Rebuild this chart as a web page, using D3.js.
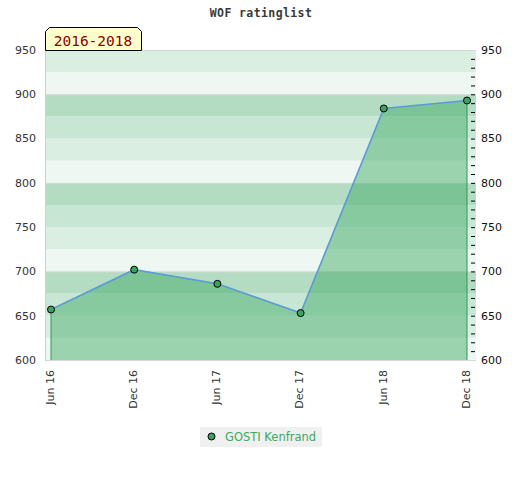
<!DOCTYPE html>
<html>
<head>
<meta charset="utf-8">
<script src="https://cdn.jsdelivr.net/npm/d3@7"></script>
<style>
  body { margin: 0; background: #fff; }
</style>
</head>
<body>
<div id="chart"></div>
<script>
// data
var periods = ["Jun 16", "Dec 16", "Jun 17", "Dec 17", "Jun 18", "Dec 18"];
var ratings = [657, 702, 686, 653, 884, 893];
var yTicks = [600, 650, 700, 750, 800, 850, 900, 950];
var seriesName = "GOSTI Kenfrand";
var periodLabel = "2016-2018";
var chartTitle = "WOF ratinglist";

var drawChart = function(){

    // sizes
    const width = 520, height = 480;
    const plotL = 45, plotR = 476, plotT = 50, plotB = 360;

    // colours
    var bandColors = ["#b3dcc3", "#c8e6d4", "#dbeee2", "#eef7f1"];
    var areaColor = "rgb(61,169,100)";
    var lineColor = "#5b9bd5";
    var dotColor = "#3aa35f";
    var textColor = "#333";
    var fontSans = "'DejaVu Sans', Verdana, sans-serif";
    var fontMono = "'DejaVu Sans Mono', monospace";

    var data = periods.map(function(p, i){ return {key: p, val: ratings[i]}; });

    var svg = d3.select("#chart")
        .append("svg")
        .attr("width", width)
        .attr("height", height)
        .style("background", "#fff");

    var x = d3.scalePoint()
        .domain(periods)
        .range([plotL + 6, plotR - 9]);
    var y = d3.scaleLinear()
        .domain([600, 950])
        .range([plotB, plotT]);

    // striped background, 25 points per band, 4-band cycle per 100
    var bands = d3.range(600, 950, 25);
    svg.append("g").selectAll("rect")
        .data(bands)
        .join("rect")
        .attr("x", plotL)
        .attr("width", plotR - plotL)
        .attr("y", d => y(d + 25))
        .attr("height", d => y(d) - y(d + 25))
        .attr("fill", d => bandColors[((100 - (d + 25) % 100) % 100) / 25]);

    // gridlines every 100 + frame
    svg.append("g").selectAll("line")
        .data(yTicks.filter(d => d % 100 === 0).concat([950]))
        .join("line")
        .attr("x1", plotL).attr("x2", plotR)
        .attr("y1", d => y(d) + 0.5).attr("y2", d => y(d) + 0.5)
        .attr("stroke", "#d8d8d8");
    svg.append("line")
        .attr("x1", plotL + 0.5).attr("x2", plotL + 0.5)
        .attr("y1", plotT).attr("y2", plotB + 1)
        .attr("stroke", "#cfcfcf");

    // area under the line
    var area = d3.area()
        .x(d => x(d.key))
        .y0(y(600))
        .y1(d => y(d.val));
    svg.append("path")
        .datum(data)
        .attr("d", area)
        .attr("fill", areaColor)
        .attr("fill-opacity", 0.47);

    // vertical edges of the area
    svg.append("g").selectAll("line")
        .data([data[0], data[data.length - 1]])
        .join("line")
        .attr("x1", d => x(d.key)).attr("x2", d => x(d.key))
        .attr("y1", d => y(d.val)).attr("y2", y(600))
        .attr("stroke", "#2f9a55")
        .attr("stroke-width", 1);

    var line = d3.line()
        .x(d => x(d.key))
        .y(d => y(d.val));
    svg.append("path")
        .datum(data)
        .attr("d", line)
        .attr("fill", "none")
        .attr("stroke", lineColor)
        .attr("stroke-width", 1.6);

    svg.append("g").selectAll("circle")
        .data(data)
        .join("circle")
        .attr("cx", d => x(d.key))
        .attr("cy", d => y(d.val))
        .attr("r", 3.5)
        .attr("fill", dotColor)
        .attr("stroke", "#000")
        .attr("stroke-width", 1);

    // left axis labels
    svg.append("g").selectAll("text")
        .data(yTicks)
        .join("text")
        .attr("x", 36)
        .attr("y", d => y(d))
        .attr("dy", "0.35em")
        .attr("text-anchor", "end")
        .attr("font-family", fontSans)
        .attr("font-size", 11)
        .attr("fill", textColor)
        .text(d => d);

    // right axis with minor ticks
    var rightAxis = d3.axisRight(y)
        .tickValues(d3.range(610, 950, 10))
        .tickSize(4)
        .tickFormat("");
    var ra = svg.append("g")
        .attr("transform", "translate(" + (plotR - 5) + ",0)")
        .call(rightAxis);
    ra.select(".domain").remove();
    ra.selectAll(".tick line").attr("stroke", "#000");

    svg.append("g").selectAll("text")
        .data(yTicks)
        .join("text")
        .attr("x", 481)
        .attr("y", d => y(d))
        .attr("dy", "0.35em")
        .attr("font-family", fontSans)
        .attr("font-size", 11)
        .attr("fill", "#111")
        .text(d => d);

    // rotated x labels
    svg.append("g").selectAll("text")
        .data(periods)
        .join("text")
        .attr("transform", d => "translate(" + (x(d) - 1) + "," + 370 + ") rotate(-90)")
        .attr("dy", "0.35em")
        .attr("text-anchor", "end")
        .attr("font-family", fontSans)
        .attr("font-size", 11)
        .attr("fill", textColor)
        .text(d => d);

    // title
    svg.append("text")
        .attr("x", 261)
        .attr("y", 17)
        .attr("text-anchor", "middle")
        .attr("font-family", fontMono)
        .attr("font-weight", "bold")
        .attr("font-size", 11.5)
        .attr("letter-spacing", 0.4)
        .attr("fill", "#3a3a3a")
        .text(chartTitle);

    // period tag with clipped corners
    var tx = plotL, tw = 96, tt = 27, tb = plotT, c = 4;
    svg.append("path")
        .attr("d", "M" + tx + "," + tb + "L" + tx + "," + (tt + c) + "L" + (tx + c) + "," + tt +
            "L" + (tx + tw - c) + "," + tt + "L" + (tx + tw) + "," + (tt + c) + "L" + (tx + tw) + "," + tb + "Z")
        .attr("transform", "translate(0.5,0.5)")
        .attr("fill", "#ffffcc")
        .attr("stroke", "#000")
        .attr("stroke-width", 1);
    svg.append("text")
        .attr("x", tx + tw / 2)
        .attr("y", 46)
        .attr("text-anchor", "middle")
        .attr("font-family", fontMono)
        .attr("font-size", 14.5)
        .attr("fill", "#8b0000")
        .text(periodLabel);

    // legend
    var lg = svg.append("g");
    lg.append("rect")
        .attr("x", 200).attr("y", 427)
        .attr("width", 122).attr("height", 20)
        .attr("fill", "#f0f0f0");
    lg.append("circle")
        .attr("cx", 211.5).attr("cy", 436.5)
        .attr("r", 3.5)
        .attr("fill", dotColor)
        .attr("stroke", "#000");
    lg.append("text")
        .attr("x", 225).attr("y", 440.5)
        .attr("font-family", fontSans)
        .attr("font-size", 11.5)
        .attr("fill", "#3aaa5f")
        .text(seriesName);
}

window.addEventListener("load", drawChart)
</script>
</body>
</html>
